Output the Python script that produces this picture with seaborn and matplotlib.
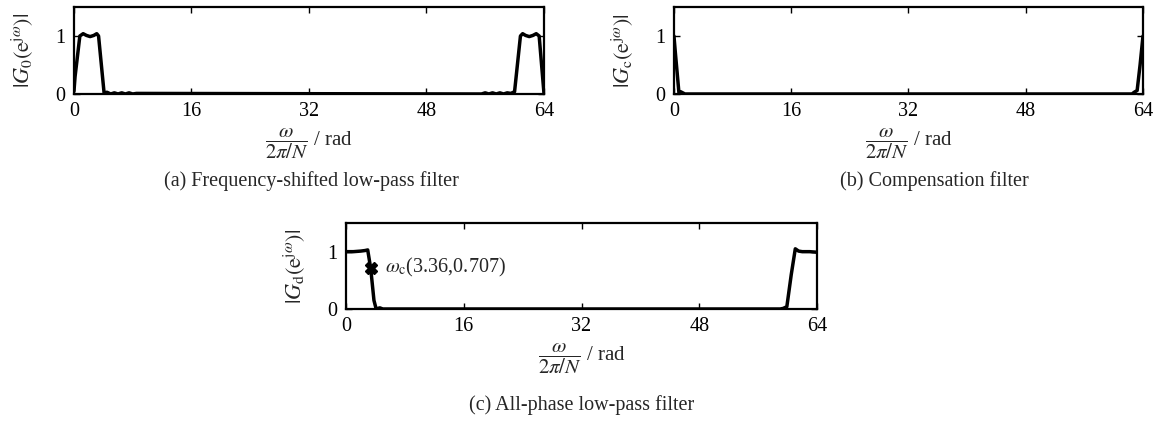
import numpy as np
import pandas as pd
import seaborn as sns
import matplotlib.pyplot as plt

# (a) frequency-shifted low-pass filter |G0|
xa = [0, 0.15, 0.8, 1.25, 1.7, 2.2, 2.7, 3.1, 3.35, 4.1, 4.5, 5.0, 5.5, 6.0, 6.5, 7.0, 7.5, 8.0, 8.5,
      55.5, 56.0, 56.5, 57.0, 57.5, 58.0, 58.5, 59.0, 59.5, 60.0, 60.8, 61.1, 61.5, 62.0, 62.5, 62.95, 63.35, 64]
ya = [0.05, 0.3, 1.0, 1.04, 1.01, 0.99, 1.01, 1.04, 1.0, 0.02, 0.03, 0.0, 0.02, 0.0, 0.02, 0.0, 0.02, 0.0, 0.01,
      0.0, 0.02, 0.0, 0.02, 0.0, 0.02, 0.0, 0.02, 0.01, 0.04, 1.0, 1.04, 1.01, 0.99, 1.01, 1.04, 1.0, 0.02]

# (b) compensation filter |Gc|
xb = [0, 0.2, 0.68, 0.9, 1.2, 1.5, 62.5, 62.8, 63.2, 63.6, 64]
yb = [1.0, 0.7, 0.02, 0.04, 0.02, 0.0, 0.0, 0.03, 0.06, 0.5, 1.0]

# (c) all-phase low-pass filter |Gd|
xc = [0, 1.0, 2.0, 2.6, 2.95, 3.36, 3.8, 4.1, 4.6, 5.0, 59.0, 59.4, 59.9, 60.5, 61.05, 61.5, 62.0, 63.0, 64]
yc = [1.0, 1.0, 1.01, 1.02, 1.03, 0.707, 0.15, 0.0, 0.02, 0.0, 0.0, 0.01, 0.04, 0.6, 1.05, 1.01, 1.0, 1.0, 0.99]

cutoff = (3.36, 0.707)

xticks = [0, 16, 32, 48, 64]
yticks = [0, 1]

sns.set_style('ticks')
plt.rcParams['font.family'] = ['Liberation Serif', 'DejaVu Serif']
plt.rcParams['mathtext.fontset'] = 'stix'
plt.rcParams['font.size'] = 14

fig = plt.figure(figsize=(11.63, 4.30), dpi=100)

def panel(rect, x, y, ylab, caption, cap_xy):
    ax = fig.add_axes(rect)
    df = pd.DataFrame({'x': x, 'y': y})
    sns.lineplot(data=df, x='x', y='y', ax=ax, color='black', linewidth=2.5)
    ax.set_xlim(0, 64)
    ax.set_ylim(0, 1.5)
    ax.set_xticks(xticks)
    ax.set_yticks(yticks)
    ax.tick_params(direction='in', top=True, right=True, length=4, width=1,
                   labelsize=14.5, colors='black', pad=6)
    for s in ax.spines.values():
        s.set_linewidth(1.6)
        s.set_color('black')
    ax.set_xlabel(r'$\dfrac{\omega}{2\pi/N}$ / rad', fontsize=15, labelpad=4)
    ax.set_ylabel(ylab, fontsize=16, labelpad=14)
    fig.text(cap_xy[0], cap_xy[1], caption, ha='center', va='center', fontsize=14.5)
    return ax

ax_a = panel([0.0636, 0.7814, 0.4041, 0.2023], xa, ya,
             r'$|G_0(\mathrm{e}^{\mathrm{j}\omega})|$',
             '(a) Frequency-shifted low-pass filter', (0.268, 0.579))
ax_b = panel([0.5795, 0.7814, 0.4033, 0.2023], xb, yb,
             r'$|G_\mathrm{c}(\mathrm{e}^{\mathrm{j}\omega})|$',
             '(b) Compensation filter', (0.803, 0.579))
ax_c = panel([0.2975, 0.2814, 0.405, 0.200], xc, yc,
             r'$|G_\mathrm{d}(\mathrm{e}^{\mathrm{j}\omega})|$',
             '(c) All-phase low-pass filter', (0.50, 0.058))

ax_c.plot(cutoff[0], cutoff[1], marker='X', color='black', markersize=8)
ax_c.text(5.3, cutoff[1] + 0.02, r'$\omega_\mathrm{c}$(3.36,0.707)', fontsize=14.5, va='center')

fig.savefig('out.png', dpi=100)
